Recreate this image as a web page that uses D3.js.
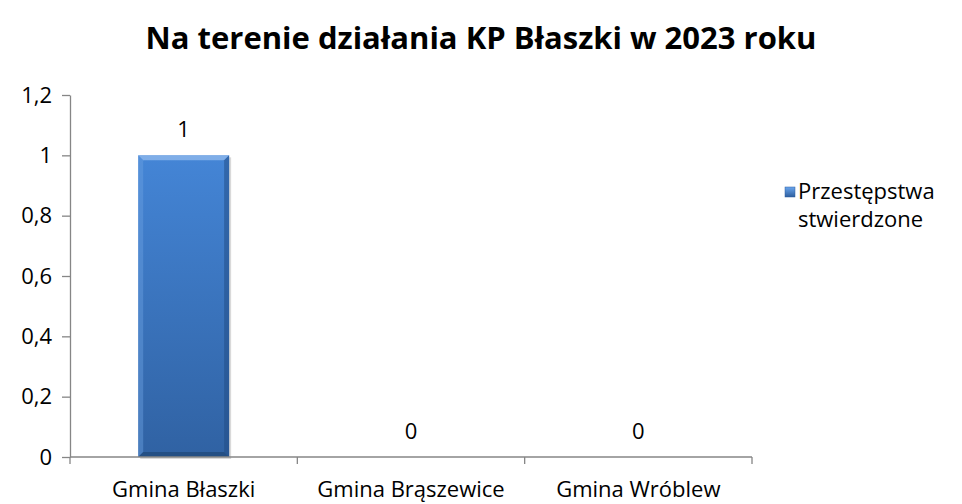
<!DOCTYPE html>
<html>
<head>
<meta charset="utf-8">
<script src="https://cdn.jsdelivr.net/npm/d3@7"></script>
<style>
  body { margin: 0; background: #fff; }
  text { font-family: "Open Sans", sans-serif; fill: #000; }
</style>
</head>
<body>
<div class="chart-container"></div>
<script>
// dane
const categories = ['Gmina Błaszki', 'Gmina Brąszewice', 'Gmina Wróblew'];
const values = [1, 0, 0];
const seriesName = ['Przestępstwa', 'stwierdzone'];
const yTicks = [0, 0.2, 0.4, 0.6, 0.8, 1, 1.2];
const title = 'Na terenie działania KP Błaszki w 2023 roku';

const svg_width = 962;
const svg_height = 504;
const margin = {top: 95, right: 210, bottom: 47, left: 70};
const chart_width = svg_width - margin.left - margin.right;
const chart_height = svg_height - margin.top - margin.bottom;
const fontSize = '22px';

const svg = d3.select('.chart-container').append('svg')
    .attr('width', svg_width).attr('height', svg_height);

const defs = svg.append('defs');
const grad = defs.append('linearGradient').attr('id', 'barGrad')
    .attr('x1', 0).attr('y1', 0).attr('x2', 0).attr('y2', 1);
grad.append('stop').attr('offset', '0%').attr('stop-color', '#4485d6');
grad.append('stop').attr('offset', '100%').attr('stop-color', '#3062a3');

const legGrad = defs.append('linearGradient').attr('id', 'legGrad')
    .attr('x1', 0).attr('y1', 0).attr('x2', 0).attr('y2', 1);
legGrad.append('stop').attr('offset', '0%').attr('stop-color', '#6aa6ee');
legGrad.append('stop').attr('offset', '100%').attr('stop-color', '#2d5e9e');

const g = svg.append('g')
    .attr('transform', `translate(${margin.left},${margin.top})`);

const xScale = d3.scaleBand().domain(categories).range([0, chart_width])
    .paddingInner(0.6).paddingOuter(0.3);
const bandStep = chart_width / categories.length;
const yScale = d3.scaleLinear().domain([0, 1.2]).range([chart_height, 0]);

const fmt = d => d3.format('~g')(d).replace('.', ',');

// oś Y
const yAxis = d3.axisLeft(yScale).tickValues(yTicks).tickFormat(fmt)
    .tickSizeInner(8).tickSizeOuter(0).tickPadding(10);
const yAxisDraw = g.append('g').call(yAxis);
yAxisDraw.select('.domain').attr('stroke', '#868686').attr('stroke-width', 1.3);
yAxisDraw.selectAll('.tick line').attr('stroke', '#868686').attr('stroke-width', 1.3);
yAxisDraw.selectAll('.tick text').style('font-size', fontSize).attr('fill', '#000')
    .style('font-family', '"Open Sans", sans-serif');

// słupki z efektem fazowania
const bars = g.selectAll('.bar').data(values).enter().append('g').attr('class', 'bar');
bars.append('rect')
    .attr('x', (d, i) => xScale(categories[i]) + 2)
    .attr('y', d => yScale(d) + 2)
    .attr('width', xScale.bandwidth())
    .attr('height', d => yScale(0) - yScale(d))
    .attr('fill', '#000').attr('opacity', 0.15);
bars.append('rect')
    .attr('x', (d, i) => xScale(categories[i]))
    .attr('y', d => yScale(d))
    .attr('width', xScale.bandwidth())
    .attr('height', d => yScale(0) - yScale(d))
    .attr('fill', 'url(#barGrad)');

const bev = 5;
function bevel(d, i, side) {
    const x0 = xScale(categories[i]), x1 = x0 + xScale.bandwidth();
    const y0 = yScale(d), y1 = yScale(0);
    if (y1 - y0 < 2 * bev) return '';
    const pts = {
        top: [[x0, y0], [x1, y0], [x1 - bev, y0 + bev], [x0 + bev, y0 + bev]],
        left: [[x0, y0], [x0 + bev, y0 + bev], [x0 + bev, y1 - bev], [x0, y1]],
        right: [[x1, y0], [x1 - bev, y0 + bev], [x1 - bev, y1 - bev], [x1, y1]],
        bottom: [[x0, y1], [x0 + bev, y1 - bev], [x1 - bev, y1 - bev], [x1, y1]]
    }[side];
    return 'M' + pts.map(p => p.join(',')).join('L') + 'Z';
}
const bevStyles = {top: ['#8fb8ec', 0.8], left: ['#6a9fe0', 0.45], right: ['#1f4a82', 0.5], bottom: ['#1d426f', 0.6]};
Object.keys(bevStyles).forEach(side => {
    bars.append('path')
        .attr('d', (d, i) => bevel(d, i, side))
        .attr('fill', bevStyles[side][0]).attr('opacity', bevStyles[side][1]);
});

// etykiety danych
g.selectAll('.val').data(values).enter().append('text')
    .attr('x', (d, i) => xScale(categories[i]) + xScale.bandwidth() / 2)
    .attr('y', d => yScale(d) - 18)
    .attr('text-anchor', 'middle')
    .style('font-size', fontSize)
    .text(d => fmt(d));

// oś X
const xAxisG = g.append('g').attr('transform', `translate(0,${chart_height})`);
xAxisG.append('line').attr('x1', 0).attr('x2', chart_width)
    .attr('stroke', '#868686').attr('stroke-width', 1.3);
xAxisG.selectAll('.xt').data(d3.range(categories.length + 1)).enter().append('line')
    .attr('x1', i => i * bandStep).attr('x2', i => i * bandStep)
    .attr('y1', 0).attr('y2', 7)
    .attr('stroke', '#868686').attr('stroke-width', 1.3);
xAxisG.selectAll('.xl').data(categories).enter().append('text')
    .attr('x', d => xScale(d) + xScale.bandwidth() / 2)
    .attr('y', 40)
    .attr('text-anchor', 'middle')
    .style('font-size', fontSize)
    .text(d => d);

// tytuł
svg.append('text')
    .attr('x', 481).attr('y', 49)
    .attr('text-anchor', 'middle')
    .style('font-size', '31px').style('font-weight', 'bold')
    .text(title);

// legenda (jeden tekst, dwie linie)
const legend = svg.append('g').attr('transform', 'translate(785,187)');
legend.append('rect').attr('width', 10).attr('height', 10)
    .attr('fill', 'url(#legGrad)').attr('stroke', '#2d5e9e').attr('stroke-width', 0.5);
const legText = legend.append('text').attr('y', 12).style('font-size', '22px');
legText.selectAll('tspan').data(seriesName).enter().append('tspan')
    .attr('x', 13).attr('dy', (d, i) => i === 0 ? 0 : 28)
    .text(d => d);
</script>
</body>
</html>
